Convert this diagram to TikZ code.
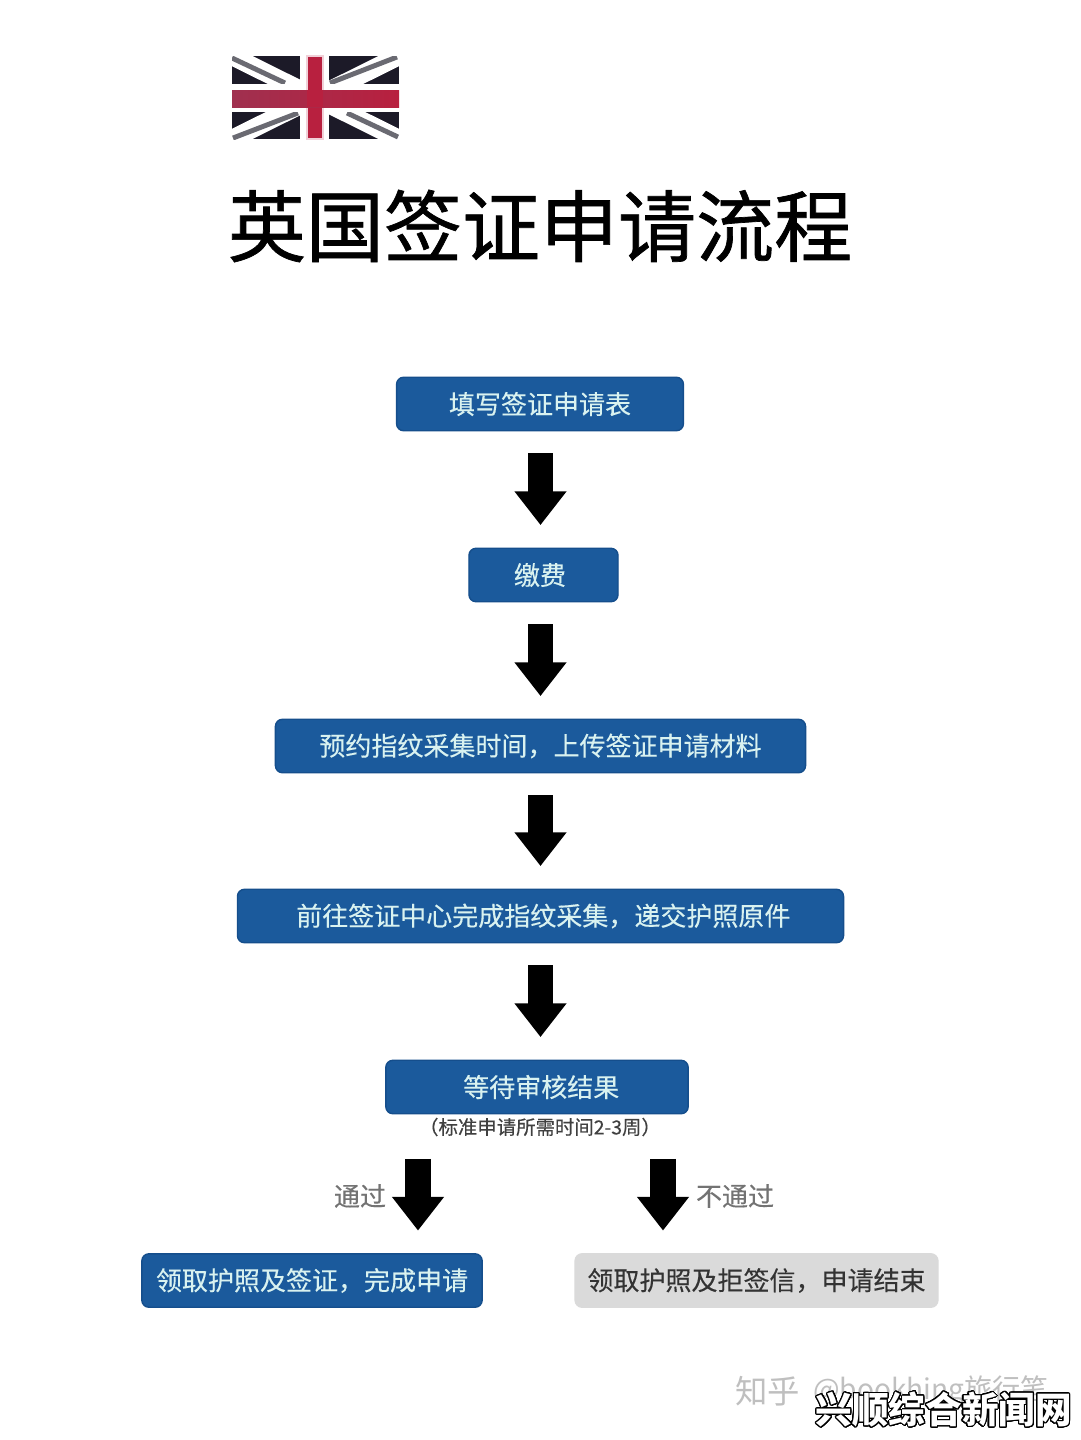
\documentclass[tikz,border=0pt]{standalone}
\usepackage{fontspec}
\usepackage{contour}
\setmainfont{Noto Sans CJK SC}
\newfontfamily\boxfont[FakeBold=0.25]{Noto Sans CJK SC}
\newfontfamily\titlefont[FakeBold=0.9]{Noto Sans CJK SC}
\usetikzlibrary{arrows.meta, positioning}
\contourlength{0.75pt}
\contournumber{32}
\definecolor{visablue}{HTML}{1B5A9C}
\definecolor{visadark}{HTML}{154E8C}
\definecolor{visagrey}{HTML}{DADADA}
\definecolor{visatext}{HTML}{D9F2F0}
\definecolor{flagred}{HTML}{B8203F}
\definecolor{flagmuted}{HTML}{A0304F}
\definecolor{flagpink}{HTML}{F0D0D8}
\definecolor{flagdark}{HTML}{1C1A28}
\definecolor{flagline}{HTML}{6A6A72}
\tikzset{
    bluebox/.style={rectangle, rounded corners=5pt, fill=visablue, draw=visadark, line width=1pt, minimum height=38pt, text=visatext, font=\boxfont\fontsize{18.5}{20}\selectfont, inner sep=0pt},
    greybox/.style={bluebox, fill=visagrey, draw=visagrey, text=black!80},
    bigarrow/.style={line width=17.8pt, black, -{Triangle[width=35.5pt,length=24pt]}, shorten <=15.5pt, shorten >=16pt},
    sidelabel/.style={font=\boxfont\fontsize{18.5}{20}\selectfont, text=black!55, inner sep=0pt},
    flagdiag/.style={line width=13pt, white},
    flagthin/.style={line width=3.5pt, flagline},
    flagcross/.style={draw=flagpink, line width=1.2pt}
}
\begin{document}
\begin{tikzpicture}[x=0.025cm, y=-0.025cm]
    \useasboundingbox (0, 0) rectangle (1080, 1440);
    \fill[white] (0, 0) rectangle (1080, 1440);

    % flag
    \fill[flagdark] (232, 56) rectangle (399, 139);
    \begin{scope}
        \clip (232, 56) rectangle (399, 139);
        \draw[flagdiag] (232, 56) -- (399, 139);
        \draw[flagdiag] (232, 139) -- (399, 56);
        \draw[flagthin] (232, 58) -- (285, 83);
        \draw[flagthin] (397, 57) -- (330, 83);
        \draw[flagthin] (233, 138) -- (298, 113);
        \draw[flagthin] (347, 113) -- (398, 137);
    \end{scope}
    \fill[white] (300, 56) rectangle (329, 139);
    \fill[white] (232, 84) rectangle (399, 112);
    \filldraw[flagcross, fill=flagred] (307, 56) rectangle (323, 139);
    \shade[left color=flagmuted, right color=flagred] (232, 90) rectangle (399, 107);
    \fill[flagred] (307, 90) rectangle (323, 107);

    \node[font=\titlefont\fontsize{55.5}{60}\selectfont, text=black, inner sep=0pt] (title) at (540, 226) {英国签证申请流程};

    \coordinate (axis) at (540.5, 0);
    \node[bluebox, minimum width=204pt] (form) at (540, 404) {填写签证申请表};
    \node[bluebox, minimum width=106pt] (fee) at (543.5, 575) {缴费\hspace*{5pt}};
    \node[bluebox, minimum width=377pt] (book) at (540.5, 746) {预约指纹采集时间，上传签证申请材料};
    \node[bluebox, minimum width=431pt] (centre) at (540.5, 916) {\hspace*{4pt}前往签证中心完成指纹采集，递交护照原件};
    \node[bluebox, minimum width=215pt] (wait) at (537, 1087) {\hspace*{6pt}等待审核结果};
    \node[font=\boxfont\fontsize{13.8}{15}\selectfont, text=black!75, inner sep=0pt] (note) at (540, 1127) {（标准申请所需时间2-3周）};
    \node[bluebox, minimum width=242pt] (pass) at (312, 1280.5) {领取护照及签证，完成申请};
    \node[greybox, minimum width=258pt] (fail) at (756.5, 1280.5) {领取护照及拒签信，申请结束};

    \draw[bigarrow] (form.south -| axis) -- (fee.north -| axis);
    \draw[bigarrow] (fee.south -| axis) -- (book.north -| axis);
    \draw[bigarrow] (book.south -| axis) -- (centre.north -| axis);
    \draw[bigarrow] (centre.south -| axis) -- (wait.north -| axis);

    \coordinate (passtop) at (418, 1137);
    \coordinate (failtop) at (663, 1137);
    \draw[bigarrow] (passtop) -- (pass.north -| passtop);
    \draw[bigarrow] (failtop) -- (fail.north -| failtop);

    \node[sidelabel] (passlabel) at (360, 1196) {通过};
    \node[sidelabel] (faillabel) at (735, 1196) {不通过};

    \node[font=\fontsize{23}{25}\selectfont, text=black!25, inner sep=0pt, anchor=west] (zhihu) at (735, 1391) {知乎};
    \node[font=\fontsize{20}{22}\selectfont, text=black!25, inner sep=0pt, right=9pt of zhihu] (user) {@bookhing旅行笔};
    \node[font=\fontsize{26}{28}\bfseries\selectfont, text=white, inner sep=0pt, anchor=east] (mark) at (1072, 1410) {\contour{black}{兴顺综合新闻网}};
\end{tikzpicture}
\end{document}
